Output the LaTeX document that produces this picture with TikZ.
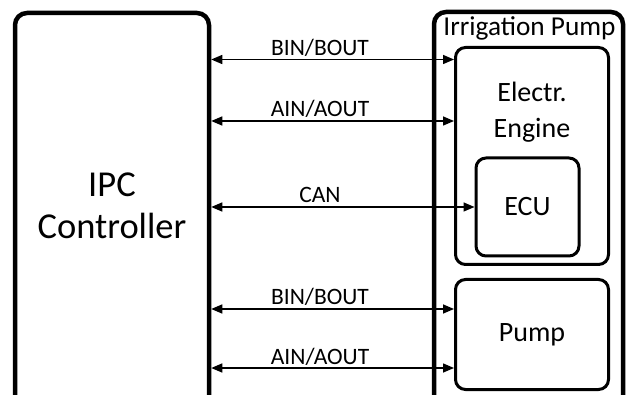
\documentclass[tikz,border=0pt]{standalone}
\usepackage{fontspec}
\setmainfont{Carlito}
\usetikzlibrary{arrows.meta}

\tikzset{
  bigbox/.style={rectangle,draw=black,line width=4.5pt,rounded corners=12pt},
  unitbox/.style={rectangle,draw=black,line width=3pt,rounded corners=10pt},
  bus/.style={{Triangle[length=11pt,width=9pt]}-{Triangle[length=11pt,width=9pt]},line width=1.5pt},
  buslabel/.style={anchor=base,font=\fontsize{23.5}{28}\selectfont,inner sep=0pt}
}

\begin{document}
\begin{tikzpicture}[x=1pt,y=-1pt]
\useasboundingbox (0,0) rectangle (629,395);
\clip (0,0) rectangle (629,395);
\node(CTRL) at (112,221.5) [bigbox,minimum width=194pt,minimum height=417pt]{};
\node(PUMPSYS) at (528.5,221) [bigbox,minimum width=189pt,minimum height=418pt]{};
\node(ENG) at (532,156) [unitbox,minimum width=153pt,minimum height=217pt]{};
\node(ECU) at (527.5,207) [unitbox,minimum width=103pt,minimum height=98pt]{};
\node(PUMP) at (532,334.5) [unitbox,minimum width=153pt,minimum height=110pt]{};
\node(CTRLtxt) at (112,206) [align=center,font=\fontsize{36.5}{42}\selectfont]{IPC\\Controller};
\node(PUMPSYStxt) at (529.5,36) [anchor=base,inner sep=0pt,font=\fontsize{27.3}{33}\selectfont]{Irrigation Pump};
\node(ENGtxt) at (532,112) [align=center,font=\fontsize{28}{36}\selectfont]{Electr.\\Engine};
\node(ECUtxt) at (ECU.center) [font=\fontsize{28}{32}\selectfont]{ECU};
\node(PUMPtxt) at (PUMP.center) [font=\fontsize{28}{32}\selectfont]{Pump};
\coordinate(L1) at (0,59.5);
\coordinate(L2) at (0,121);
\coordinate(L3) at (0,207);
\coordinate(L4) at (0,309);
\coordinate(L5) at (0,368);
\draw[bus] (CTRL.east |- L1) -- (ENG.west |- L1);
\draw[bus] (CTRL.east |- L2) -- (ENG.west |- L2);
\draw[bus] (CTRL.east |- L3) -- (ECU.west |- L3);
\draw[bus] (CTRL.east |- L4) -- (PUMP.west |- L4);
\draw[bus] (CTRL.east |- L5) -- (PUMP.west |- L5);
\node(B1) at (320,55.5) [buslabel]{BIN/BOUT};
\node(A1) at (320,117) [buslabel]{AIN/AOUT};
\node(C1) at (320,203) [buslabel]{CAN};
\node(B2) at (320,305) [buslabel]{BIN/BOUT};
\node(A2) at (320,364) [buslabel]{AIN/AOUT};
\end{tikzpicture}
\end{document}
